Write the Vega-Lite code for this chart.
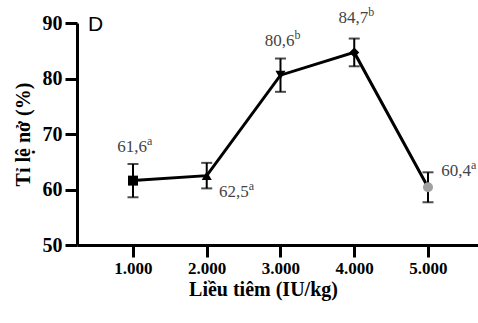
{
  "$schema": "https://vega.github.io/schema/vega-lite/v6.json",
  "width": 401,
  "height": 222,
  "autosize": {"type": "none"},
  "padding": {"left": 77, "top": 23, "right": 0, "bottom": 78},
  "background": "white",
  "config": {"view": {"stroke": null}},
  "title": {"text": "D", "anchor": "start", "frame": "group", "dx": 11, "offset": -46, "baseline": "alphabetic", "font": "Liberation Sans", "fontSize": 21, "fontWeight": "normal", "color": "black"},
  "data": {"values": [
    {"dose": 1000, "rate": 61.6, "err": 3.0, "label": "61,6", "letter": "a"},
    {"dose": 2000, "rate": 62.5, "err": 2.3, "label": "62,5", "letter": "a"},
    {"dose": 3000, "rate": 80.6, "err": 3.0, "label": "80,6", "letter": "b"},
    {"dose": 4000, "rate": 84.7, "err": 2.5, "label": "84,7", "letter": "b"},
    {"dose": 5000, "rate": 60.4, "err": 2.7, "label": "60,4", "letter": "a"}
  ]},
  "encoding": {
    "x": {"field": "dose", "type": "quantitative", "scale": {"domain": [241, 5678], "nice": false, "zero": false},
      "axis": {"values": [1000, 2000, 3000, 4000, 5000], "labelExpr": "replace(format(datum.value, ','), ',', '.')", "title": "Liều tiêm (IU/kg)", "titleX": 186, "grid": false, "domainColor": "black", "domainWidth": 3, "tickColor": "black", "tickWidth": 3, "tickSize": 12, "labelFont": "Times New Roman", "labelFontWeight": "bold", "labelFontSize": 17, "labelColor": "black", "labelPadding": 3, "titleFont": "Times New Roman", "titleFontWeight": "bold", "titleFontSize": 20, "titleColor": "black", "titlePadding": 3}},
    "y": {"field": "rate", "type": "quantitative", "scale": {"domain": [50, 90], "nice": false, "zero": false},
      "axis": {"values": [50, 60, 70, 80, 90], "title": "Tỉ lệ nở (%)", "grid": false, "domainColor": "black", "domainWidth": 3, "tickColor": "black", "tickWidth": 3, "tickSize": 12, "labelFont": "Times New Roman", "labelFontWeight": "bold", "labelFontSize": 20, "labelColor": "black", "labelPadding": 3, "titleFont": "Times New Roman", "titleFontWeight": "bold", "titleFontSize": 20, "titleColor": "black", "titlePadding": 9}}
  },
  "layer": [
    {"mark": {"type": "errorbar", "ticks": {"size": 11, "thickness": 2, "color": "black"}, "rule": {"strokeWidth": 2, "color": "black"}},
     "encoding": {"yError": {"field": "err"}}},
    {"mark": {"type": "line", "color": "black", "strokeWidth": 3}},
    {"mark": {"type": "point", "filled": true, "opacity": 1, "size": 100},
     "encoding": {
       "shape": {"field": "dose", "type": "nominal", "scale": {"domain": [1000, 2000, 3000, 4000, 5000], "range": ["square", "triangle-up", "triangle-down", "diamond", "circle"]}, "legend": null},
       "color": {"field": "dose", "type": "nominal", "scale": {"domain": [1000, 2000, 3000, 4000, 5000], "range": ["black", "black", "black", "black", "#a0a0a0"]}, "legend": null}
     }},
    {"transform": [{"filter": "datum.dose == 1000 || datum.dose == 3000 || datum.dose == 4000"}],
     "mark": {"type": "text", "align": "right", "baseline": "middle", "dx": 14, "dy": -34, "font": "Times New Roman", "fontSize": 17, "color": "#444"},
     "encoding": {"text": {"field": "label"}}},
    {"transform": [{"filter": "datum.dose == 1000 || datum.dose == 3000 || datum.dose == 4000"}],
     "mark": {"type": "text", "align": "left", "baseline": "middle", "dx": 14, "dy": -40, "font": "Times New Roman", "fontSize": 12, "color": "#444"},
     "encoding": {"text": {"field": "letter"}}},
    {"transform": [{"filter": "datum.dose == 2000"}],
     "mark": {"type": "text", "align": "right", "baseline": "middle", "dx": 42, "dy": 16, "font": "Times New Roman", "fontSize": 17, "color": "#444"},
     "encoding": {"text": {"field": "label"}}},
    {"transform": [{"filter": "datum.dose == 2000"}],
     "mark": {"type": "text", "align": "left", "baseline": "middle", "dx": 42, "dy": 10, "font": "Times New Roman", "fontSize": 12, "color": "#444"},
     "encoding": {"text": {"field": "letter"}}},
    {"transform": [{"filter": "datum.dose == 5000"}],
     "mark": {"type": "text", "align": "right", "baseline": "middle", "dx": 43, "dy": -16, "font": "Times New Roman", "fontSize": 17, "color": "#444"},
     "encoding": {"text": {"field": "label"}}},
    {"transform": [{"filter": "datum.dose == 5000"}],
     "mark": {"type": "text", "align": "left", "baseline": "middle", "dx": 43, "dy": -22, "font": "Times New Roman", "fontSize": 12, "color": "#444"},
     "encoding": {"text": {"field": "letter"}}}
  ]
}
